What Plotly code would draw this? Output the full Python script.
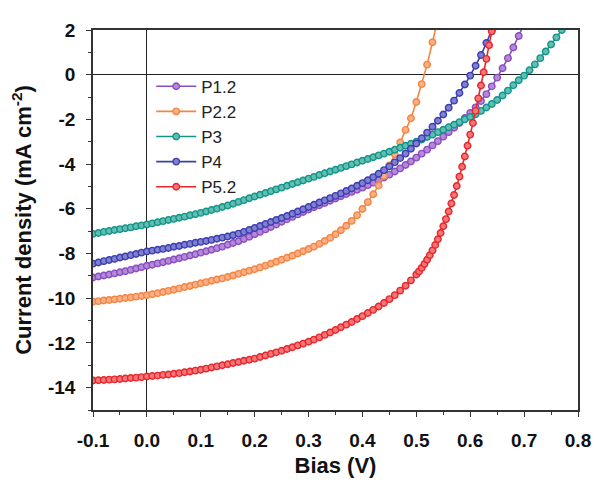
import plotly.graph_objects as go

# bias sweep (V), shared by P1.2, P2.2, P3, P4
bias = [-0.10, -0.09, -0.08, -0.07, -0.06, -0.05, -0.04, -0.03, -0.02, -0.01,
        0.00, 0.01, 0.02, 0.03, 0.04, 0.05, 0.06, 0.07, 0.08, 0.09,
        0.10, 0.11, 0.12, 0.13, 0.14, 0.15, 0.16, 0.17, 0.18, 0.19,
        0.20, 0.21, 0.22, 0.23, 0.24, 0.25, 0.26, 0.27, 0.28, 0.29,
        0.30, 0.31, 0.32, 0.33, 0.34, 0.35, 0.36, 0.37, 0.38, 0.39,
        0.40, 0.41, 0.42, 0.43, 0.44, 0.45, 0.46, 0.47, 0.48, 0.49,
        0.50, 0.51, 0.52, 0.53, 0.54, 0.55, 0.56, 0.57, 0.58, 0.59,
        0.60, 0.61, 0.62, 0.63, 0.64, 0.65, 0.66, 0.67, 0.68, 0.69,
        0.70, 0.71, 0.72, 0.73, 0.74, 0.75, 0.76, 0.77, 0.78]

# P5.2 was swept finer near Voc
bias_p52 = [-0.10, -0.09, -0.08, -0.07, -0.06, -0.05, -0.04, -0.03, -0.02, -0.01,
            0.00, 0.01, 0.02, 0.03, 0.04, 0.05, 0.06, 0.07, 0.08, 0.09,
            0.10, 0.11, 0.12, 0.13, 0.14, 0.15, 0.16, 0.17, 0.18, 0.19,
            0.20, 0.21, 0.22, 0.23, 0.24, 0.25, 0.26, 0.27, 0.28, 0.29,
            0.30, 0.31, 0.32, 0.33, 0.34, 0.35, 0.36, 0.37, 0.38, 0.39,
            0.40, 0.41, 0.42, 0.43, 0.44, 0.45, 0.46, 0.47, 0.48, 0.49,
            0.50, 0.505, 0.510, 0.515, 0.520, 0.525, 0.530, 0.535, 0.540, 0.545,
            0.550, 0.555, 0.560, 0.565, 0.570, 0.575, 0.580, 0.585, 0.590, 0.595,
            0.600, 0.605, 0.610, 0.615, 0.620, 0.625, 0.630, 0.635, 0.640]

# current density (mA cm-2)
j_p12 = [-9.07, -9.03, -8.98, -8.94, -8.89, -8.84, -8.79, -8.73, -8.67, -8.61,
         -8.55, -8.50, -8.44, -8.39, -8.33, -8.27, -8.21, -8.15, -8.09, -8.03,
         -7.96, -7.90, -7.83, -7.76, -7.69, -7.61, -7.53, -7.45, -7.35, -7.25,
         -7.14, -7.03, -6.92, -6.81, -6.70, -6.58, -6.47, -6.36, -6.25, -6.14,
         -6.03, -5.93, -5.84, -5.74, -5.64, -5.54, -5.44, -5.34, -5.24, -5.15,
         -5.05, -4.94, -4.83, -4.72, -4.60, -4.47, -4.33, -4.19, -4.04, -3.88,
         -3.71, -3.53, -3.35, -3.16, -2.97, -2.77, -2.57, -2.37, -2.16, -1.94,
         -1.71, -1.46, -1.18, -0.87, -0.52, -0.13, 0.29, 0.74, 1.22, 1.73,
         2.27]

j_p22 = [-10.15, -10.13, -10.10, -10.08, -10.05, -10.02, -9.99, -9.96, -9.93, -9.90,
         -9.86, -9.82, -9.77, -9.72, -9.67, -9.62, -9.56, -9.50, -9.45, -9.39,
         -9.33, -9.28, -9.22, -9.16, -9.11, -9.05, -8.98, -8.91, -8.84, -8.77,
         -8.70, -8.62, -8.54, -8.46, -8.37, -8.28, -8.19, -8.10, -8.00, -7.90,
         -7.80, -7.69, -7.57, -7.44, -7.30, -7.14, -6.96, -6.76, -6.54, -6.29,
         -6.01, -5.70, -5.35, -4.96, -4.53, -4.06, -3.56, -3.03, -2.47, -1.95,
         -1.22, -0.42, 0.45, 1.45, 2.50]

j_p3 = [-7.12, -7.08, -7.03, -6.99, -6.95, -6.91, -6.87, -6.83, -6.78, -6.74,
        -6.70, -6.65, -6.60, -6.55, -6.50, -6.45, -6.40, -6.35, -6.29, -6.24,
        -6.18, -6.12, -6.05, -5.99, -5.92, -5.85, -5.77, -5.69, -5.61, -5.53,
        -5.45, -5.37, -5.29, -5.21, -5.13, -5.05, -4.97, -4.89, -4.81, -4.73,
        -4.65, -4.57, -4.49, -4.41, -4.33, -4.25, -4.17, -4.09, -4.01, -3.93,
        -3.85, -3.77, -3.69, -3.61, -3.53, -3.45, -3.36, -3.27, -3.18, -3.09,
        -3.00, -2.90, -2.79, -2.68, -2.57, -2.46, -2.35, -2.24, -2.12, -2.00,
        -1.89, -1.77, -1.62, -1.47, -1.31, -1.13, -0.93, -0.71, -0.47, -0.25,
        -0.04, 0.20, 0.46, 0.74, 1.04, 1.35, 1.67, 2.00, 2.33]

j_p4 = [-8.45, -8.40, -8.34, -8.29, -8.24, -8.18, -8.13, -8.07, -8.02, -7.96,
        -7.91, -7.87, -7.83, -7.79, -7.75, -7.70, -7.66, -7.61, -7.57, -7.52,
        -7.48, -7.44, -7.39, -7.34, -7.29, -7.24, -7.18, -7.11, -7.03, -6.95,
        -6.86, -6.77, -6.68, -6.59, -6.50, -6.41, -6.32, -6.22, -6.12, -6.02,
        -5.92, -5.82, -5.72, -5.62, -5.52, -5.42, -5.31, -5.20, -5.09, -4.97,
        -4.85, -4.72, -4.58, -4.43, -4.27, -4.10, -3.92, -3.73, -3.53, -3.31,
        -3.08, -2.84, -2.59, -2.33, -2.06, -1.78, -1.48, -1.16, -0.82, -0.44,
        -0.04, 0.40, 0.88, 1.42, 2.00]

j_p52 = [-13.68, -13.67, -13.66, -13.64, -13.63, -13.61, -13.59, -13.57, -13.55, -13.53,
         -13.50, -13.48, -13.46, -13.43, -13.41, -13.38, -13.35, -13.31, -13.28, -13.24,
         -13.20, -13.15, -13.10, -13.05, -13.00, -12.95, -12.90, -12.85, -12.80, -12.75,
         -12.70, -12.63, -12.56, -12.49, -12.42, -12.35, -12.27, -12.19, -12.11, -12.03,
         -11.95, -11.85, -11.75, -11.64, -11.53, -11.42, -11.30, -11.18, -11.06, -10.93,
         -10.80, -10.66, -10.52, -10.37, -10.21, -10.04, -9.86, -9.66, -9.44, -9.20,
         -8.94, -8.80, -8.64, -8.47, -8.28, -8.08, -7.86, -7.62, -7.36, -7.08,
         -6.78, -6.46, -6.12, -5.76, -5.38, -4.98, -4.56, -4.12, -3.66, -3.18,
         -2.68, -2.16, -1.62, -1.06, -0.48, 0.11, 0.71, 1.32, 1.94]

names = ["P1.2", "P2.2", "P3", "P4", "P5.2"]

x_tick_vals = [-0.1, 0.0, 0.1, 0.2, 0.3, 0.4, 0.5, 0.6, 0.7, 0.8]
x_tick_text = ["-0.1", "0.0", "0.1", "0.2", "0.3", "0.4", "0.5", "0.6", "0.7", "0.8"]
y_tick_vals = [2, 0, -2, -4, -6, -8, -10, -12, -14]
y_tick_text = ["2", "0", "-2", "-4", "-6", "-8", "-10", "-12", "-14"]

series = [
    (bias, j_p12, "#8a4cc2", "#b48ad8"),
    (bias, j_p22, "#f5843f", "#f9b088"),
    (bias, j_p3, "#119588", "#62bdb3"),
    (bias, j_p4, "#3d3db0", "#8080d0"),
    (bias_p52, j_p52, "#e8262a", "#f27678"),
]

FONT = "Liberation Sans, Arial, sans-serif"

fig = go.Figure()
for name, (v, j, col, fill) in zip(names, series):
    fig.add_trace(go.Scatter(
        x=v[:len(j)], y=j, name=name, mode="lines+markers",
        line=dict(color=col, width=1.6),
        marker=dict(symbol="circle", size=6.5, color=fill,
                    line=dict(color=col, width=1.4)),
    ))

axis_common = dict(
    showline=True, linecolor="#333333", linewidth=1.6, mirror=True,
    showgrid=False, ticks="outside", ticklen=5, tickwidth=1.4, tickcolor="#333333",
    zeroline=True, zerolinecolor="#222222", zerolinewidth=1.2,
    tickfont=dict(family=FONT, size=19, color="#111111", weight="bold"),
    ticklabelstandoff=7,
)

fig.update_xaxes(
    range=[-0.1, 0.8], tickmode="array", tickvals=x_tick_vals, ticktext=x_tick_text,
    minor=dict(tickmode="linear", tick0=-0.1, dtick=0.05, ticks="outside",
               ticklen=3, tickwidth=1.2, tickcolor="#333333"),
    title=dict(text="Bias (V)", font=dict(family=FONT, size=22, color="#111111", weight="bold"),
               standoff=8),
    **axis_common,
)
fig.update_yaxes(
    range=[-15, 2], tickmode="array", tickvals=y_tick_vals, ticktext=y_tick_text,
    minor=dict(tickmode="linear", tick0=-15, dtick=1, ticks="outside",
               ticklen=3, tickwidth=1.2, tickcolor="#333333"),
    title=dict(text="Current density (mA cm<sup>-2</sup>)",
               font=dict(family=FONT, size=22, color="#111111", weight="bold"),
               standoff=12),
    **axis_common,
)

# the page body adds an 8 px offset, so the figure is 8 px smaller each way
fig.update_layout(
    width=595, height=478,
    margin=dict(l=85, r=14, t=15, b=60),
    plot_bgcolor="white", paper_bgcolor="white",
    showlegend=True,
    legend=dict(x=0.12, y=0.898, xanchor="left", yanchor="top",
                bgcolor="rgba(0,0,0,0)", borderwidth=0,
                font=dict(family=FONT, size=17, color="#222222"),
                itemwidth=40, tracegroupgap=0),
)

fig.write_html("out.html")
